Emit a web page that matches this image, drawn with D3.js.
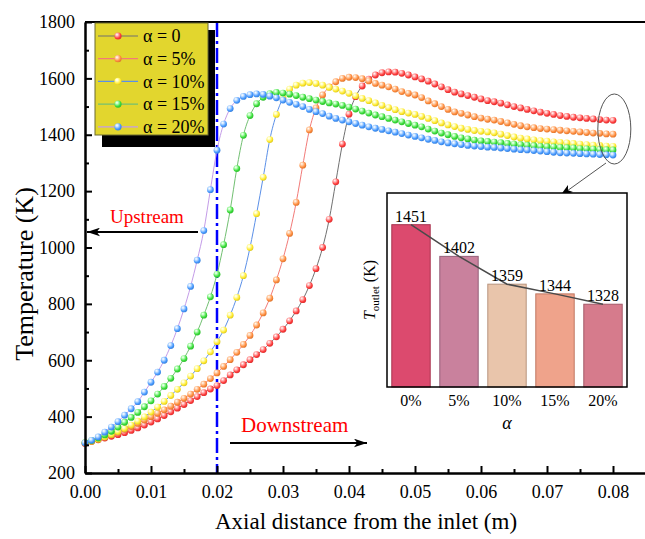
<!DOCTYPE html>
<html>
<head>
<meta charset="utf-8">
<script src="https://cdn.jsdelivr.net/npm/d3@7"></script>
<style>
  body { margin: 0; background: #fff; }
  svg { font-family: "Liberation Serif", "Times New Roman", serif; }
  .tick text { font-size: 18px; fill: #000; font-family: "Liberation Serif", "Times New Roman", serif; }
</style>
</head>
<body>
<div id="chart"></div>
<script>
var canvas_width = 645,
    canvas_height = 539;

// sample positions along the axis (m)
var positions = [
  0.000, 0.001, 0.002, 0.003, 0.004, 0.005, 0.006, 0.007, 0.008, 0.009,
  0.010, 0.011, 0.012, 0.013, 0.014, 0.015, 0.016, 0.017, 0.018, 0.019,
  0.020, 0.021, 0.022, 0.023, 0.024, 0.025, 0.026, 0.027, 0.028, 0.029,
  0.030, 0.031, 0.032, 0.033, 0.034, 0.035, 0.036, 0.037, 0.038, 0.039,
  0.040, 0.041, 0.042, 0.043, 0.044, 0.045, 0.046, 0.047, 0.048, 0.049,
  0.050, 0.051, 0.052, 0.053, 0.054, 0.055, 0.056, 0.057, 0.058, 0.059,
  0.060, 0.061, 0.062, 0.063, 0.064, 0.065, 0.066, 0.067, 0.068, 0.069,
  0.070, 0.071, 0.072, 0.073, 0.074, 0.075, 0.076, 0.077, 0.078, 0.079,
  0.080
];

var temp_a0 = [
  305, 312, 318, 324, 330, 336, 343, 351, 360, 370,
  381, 392, 404, 417, 430, 443, 457, 471, 485, 498,
  510, 528, 548, 566, 584, 602, 620, 638, 660, 683,
  710, 740, 775, 815, 865, 925, 1000, 1100, 1233, 1367,
  1473, 1535, 1573, 1597, 1612, 1620, 1623, 1622, 1618, 1612,
  1605, 1598, 1590, 1580, 1570, 1560, 1551, 1545, 1539, 1533,
  1527, 1521, 1517, 1512, 1506, 1500, 1495, 1490, 1485, 1480,
  1476, 1472, 1468, 1465, 1462, 1460, 1458, 1456, 1454, 1452,
  1451
];
var temp_a5 = [
  306, 313, 320, 328, 336, 345, 355, 365, 376, 388,
  400, 412, 424, 437, 451, 465, 480, 497, 515, 535,
  555, 578, 602, 628, 656, 688, 725, 768, 820, 885,
  960, 1050, 1160, 1292, 1417, 1495, 1541, 1570, 1588, 1600,
  1604, 1603, 1599, 1591, 1582, 1576, 1570, 1562, 1553, 1547,
  1541, 1532, 1520, 1510, 1500, 1490, 1481, 1476, 1470, 1464,
  1459, 1455, 1452, 1447, 1442, 1437, 1432, 1428, 1425, 1422,
  1420, 1418, 1416, 1414, 1412, 1410, 1408, 1406, 1405, 1403,
  1402
];
var temp_a10 = [
  308, 313, 320, 328, 337, 347, 358, 370, 384, 399,
  416, 434, 454, 475, 497, 520, 544, 570, 598, 630,
  666, 707, 760, 823, 900, 1000, 1120, 1249, 1383, 1472,
  1530, 1562, 1576, 1583, 1585, 1582, 1576, 1568, 1562, 1555,
  1547, 1538, 1529, 1521, 1513, 1504, 1496, 1489, 1482, 1477,
  1472, 1465, 1458, 1450, 1442, 1435, 1429, 1423, 1419, 1415,
  1412, 1410, 1407, 1402, 1397, 1392, 1388, 1385, 1382, 1379,
  1377, 1375, 1373, 1371, 1369, 1367, 1365, 1363, 1362, 1360,
  1359
];
var temp_a15 = [
  308, 315, 324, 335, 348, 363, 380, 397, 415, 435,
  456, 480, 507, 536, 569, 606, 650, 700, 760, 825,
  905, 1010, 1133, 1280, 1398, 1468, 1510, 1533, 1546, 1550,
  1548, 1544, 1539, 1533, 1528, 1523, 1518, 1513, 1509, 1504,
  1498, 1491, 1484, 1477, 1470, 1464, 1458, 1452, 1446, 1440,
  1434, 1428, 1420, 1413, 1406, 1400, 1394, 1389, 1385, 1381,
  1378, 1376, 1374, 1372, 1369, 1367, 1365, 1363, 1361, 1359,
  1358, 1357, 1355, 1354, 1353, 1351, 1350, 1349, 1348, 1347,
  1346
];
var temp_a20 = [
  307, 316, 328, 345, 363, 382, 405, 428, 453, 487,
  522, 558, 600, 652, 712, 782, 862, 955, 1060, 1205,
  1345, 1438, 1493, 1522, 1536, 1542, 1545, 1543, 1537, 1531,
  1523, 1515, 1508, 1500, 1490, 1482, 1475, 1466, 1458, 1452,
  1446, 1440, 1434, 1428, 1423, 1419, 1414, 1409, 1404, 1399,
  1394, 1389, 1384, 1380, 1375, 1371, 1368, 1365, 1362, 1360,
  1358, 1356, 1355, 1353, 1351, 1349, 1347, 1346, 1344, 1342,
  1340, 1338, 1336, 1335, 1334, 1333, 1332, 1331, 1330, 1329,
  1328
];

var series_names = ["α = 0", "α = 5%", "α = 10%", "α = 15%", "α = 20%"];
var x_ticks = [0, 0.01, 0.02, 0.03, 0.04, 0.05, 0.06, 0.07, 0.08];
var x_minor = [0.005, 0.015, 0.025, 0.035, 0.045, 0.055, 0.065, 0.075];
var y_ticks = [200, 400, 600, 800, 1000, 1200, 1400, 1600, 1800];
var y_minor = [300, 500, 700, 900, 1100, 1300, 1500, 1700];

// inset
var outlet_labels = ["0%", "5%", "10%", "15%", "20%"];
var outlet_values = [1451, 1402, 1359, 1344, 1328];

var ball_colors = ["#ff3a3a", "#ff8a3a", "#ffe92a", "#38dc38", "#4598ff"];
var ball_lights = ["#ffc0c0", "#ffd8b8", "#ffffc8", "#c0ffc0", "#cfe6ff"];
var line_colors = ["#707070", "#f27a78", "#5b90e8", "#72c072", "#c49ce8"];
var bar_fills = ["#dc4a6e", "#c9819d", "#e9c5ab", "#efa38b", "#d67b8c"];
var bar_strokes = ["#a8344f", "#94607a", "#b8947e", "#c07762", "#a45a68"];

var margin = { top: 22, right: 0, bottom: 66, left: 85 };
var width = canvas_width - margin.left - margin.right + 1;
var height = canvas_height - margin.top - margin.bottom;

var svg = d3.select("#chart")
    .append("svg")
    .attr("width", canvas_width)
    .attr("height", canvas_height);

var defs = svg.append("defs");
ball_colors.forEach(function (c, i) {
    var grad = defs.append("radialGradient")
        .attr("id", "ball" + i)
        .attr("cx", "38%").attr("cy", "35%").attr("r", "65%")
        .attr("fx", "35%").attr("fy", "30%");
    grad.append("stop").attr("offset", "0%").attr("stop-color", "#ffffff");
    grad.append("stop").attr("offset", "25%").attr("stop-color", ball_lights[i]);
    grad.append("stop").attr("offset", "75%").attr("stop-color", c);
    grad.append("stop").attr("offset", "100%").attr("stop-color", d3.color(c).darker(0.4));
});

var xScale = d3.scaleLinear().domain([0, 0.085]).range([0, width]);
var yScale = d3.scaleLinear().domain([200, 1800]).range([height, 0]);

var g = svg.append("g")
    .attr("transform", "translate(" + margin.left + "," + margin.top + ")");

// dash-dot boundary
g.append("line")
    .attr("x1", xScale(0.02)).attr("x2", xScale(0.02))
    .attr("y1", 0).attr("y2", height)
    .attr("stroke", "#0000ff")
    .attr("stroke-width", 2.5)
    .attr("stroke-dasharray", "15,4,3,4");

// Lines and balls
var all_series = [temp_a0, temp_a5, temp_a10, temp_a15, temp_a20];
var source = all_series.map(function (vals, i) {
    return { key: i, value: positions.map(function (p, j) { return { x: p, y: vals[j] }; }) };
});

var line = d3.line()
    .curve(d3.curveMonotoneX)
    .x(function (d) { return xScale(d.x); })
    .y(function (d) { return yScale(d.y); });

var seriesG = g.selectAll(".series")
    .data(source)
    .enter()
    .append("g")
    .attr("class", "series");

seriesG.append("path")
    .attr("fill", "none")
    .attr("stroke", function (d) { return line_colors[d.key]; })
    .attr("stroke-width", 1)
    .attr("d", function (d) { return line(d.value); });

seriesG.selectAll("circle")
    .data(function (d) { return d.value.map(function (v) { return { k: d.key, x: v.x, y: v.y }; }); })
    .enter()
    .append("circle")
    .attr("cx", function (d) { return xScale(d.x); })
    .attr("cy", function (d) { return yScale(d.y); })
    .attr("r", 3.4)
    .attr("fill", function (d) { return "url(#ball" + d.k + ")"; });

// Axes
var xAxis = g.append("g")
    .attr("transform", "translate(0," + height + ")")
    .call(d3.axisBottom(xScale).tickValues(x_ticks).tickFormat(d3.format(".2f"))
        .tickSize(-7).tickSizeOuter(0).tickPadding(12));
g.append("g")
    .attr("transform", "translate(0," + height + ")")
    .call(d3.axisBottom(xScale).tickValues(x_minor).tickFormat("").tickSize(-4).tickSizeOuter(0));

var yAxis = g.append("g")
    .call(d3.axisLeft(yScale).tickValues(y_ticks).tickFormat(d3.format("d"))
        .tickSize(-7).tickSizeOuter(0).tickPadding(10));
g.append("g")
    .call(d3.axisLeft(yScale).tickValues(y_minor).tickFormat("").tickSize(-4).tickSizeOuter(0));

g.selectAll(".domain").attr("stroke", "#000").attr("stroke-width", 2);
g.selectAll(".tick line").attr("stroke", "#000").attr("stroke-width", 2);

// top frame
g.append("line")
    .attr("x1", 0).attr("x2", width)
    .attr("y1", 0).attr("y2", 0)
    .attr("stroke", "#000").attr("stroke-width", 2);

// Labels
svg.append("text")
    .attr("x", 366).attr("y", 529)
    .attr("text-anchor", "middle")
    .style("font-size", "23px")
    .text("Axial distance from the inlet (m)");

svg.append("text")
    .attr("transform", "translate(33,274) rotate(-90)")
    .attr("text-anchor", "middle")
    .style("font-size", "26px")
    .text("Temperature (K)");

// Upstream / Downstream arrows
defs.append("marker")
    .attr("id", "arrowBlack")
    .attr("viewBox", "0 0 12 8")
    .attr("refX", 12).attr("refY", 4)
    .attr("markerWidth", 13).attr("markerHeight", 9)
    .attr("markerUnits", "userSpaceOnUse")
    .attr("orient", "auto")
    .append("path").attr("d", "M0,0 L12,4 L0,8 L3,4 Z").attr("fill", "#000");

svg.append("line")
    .attr("x1", 198).attr("y1", 232).attr("x2", 87).attr("y2", 232)
    .attr("stroke", "#000").attr("stroke-width", 2)
    .attr("marker-end", "url(#arrowBlack)");
svg.append("text")
    .attr("x", 110).attr("y", 223)
    .attr("fill", "#ff0000")
    .style("font-size", "19px")
    .text("Upstream");

svg.append("line")
    .attr("x1", 230).attr("y1", 443).attr("x2", 367).attr("y2", 443)
    .attr("stroke", "#000").attr("stroke-width", 2)
    .attr("marker-end", "url(#arrowBlack)");
svg.append("text")
    .attr("x", 241).attr("y", 432)
    .attr("fill", "#ff0000")
    .style("font-size", "21px")
    .text("Downstream");

// Legend
var legend = svg.append("g").attr("transform", "translate(95,23)");
legend.append("rect")
    .attr("x", 7).attr("y", 7).attr("width", 113).attr("height", 117)
    .attr("fill", "#000");
legend.append("rect")
    .attr("width", 113).attr("height", 112)
    .attr("fill", "#e2d62e")
    .attr("stroke", "#6b6b30").attr("stroke-width", 1);

var legendRows = legend.selectAll(".legend-row")
    .data(series_names)
    .enter()
    .append("g")
    .attr("transform", function (d, i) { return "translate(0," + (13 + i * 22.7) + ")"; });
legendRows.append("line")
    .attr("x1", 3).attr("x2", 43)
    .attr("stroke", function (d, i) { return line_colors[i]; })
    .attr("stroke-width", 1.2);
legendRows.append("circle")
    .attr("cx", 23).attr("r", 3.6)
    .attr("fill", function (d, i) { return "url(#ball" + i + ")"; });
legendRows.append("text")
    .attr("x", 48).attr("dy", "0.35em")
    .style("font-size", "18px")
    .text(function (d) { return d; });

// Ellipse callout
svg.append("ellipse")
    .attr("cx", xScale(0.0802) + margin.left).attr("cy", 129)
    .attr("rx", 16.5).attr("ry", 35)
    .attr("fill", "none").attr("stroke", "#555").attr("stroke-width", 1);
svg.append("line")
    .attr("x1", 606).attr("y1", 163).attr("x2", 560).attr("y2", 196)
    .attr("stroke", "#555").attr("stroke-width", 1)
    .attr("marker-end", "url(#arrowBlack)");

// Inset bar chart
var inset = { left: 387, top: 193, width: 240, height: 194 };
var ig = svg.append("g").attr("transform", "translate(" + inset.left + "," + inset.top + ")");

ig.append("rect")
    .attr("width", inset.width).attr("height", inset.height)
    .attr("fill", "#fff");

var bx = d3.scaleBand().domain(outlet_labels).range([0, inset.width])
    .paddingInner(0.2).paddingOuter(0.1);
var by = d3.scaleLinear().domain([1200, 1500]).range([inset.height, 0]);

ig.selectAll(".bar")
    .data(outlet_values)
    .enter()
    .append("rect")
    .attr("x", function (d, i) { return bx(outlet_labels[i]); })
    .attr("y", function (d) { return by(d); })
    .attr("width", bx.bandwidth())
    .attr("height", function (d) { return inset.height - by(d); })
    .attr("fill", function (d, i) { return bar_fills[i]; })
    .attr("stroke", function (d, i) { return bar_strokes[i]; })
    .attr("stroke-width", 1);

ig.append("path")
    .datum(outlet_values)
    .attr("fill", "none")
    .attr("stroke", "#4a4a4a")
    .attr("stroke-width", 1.5)
    .attr("d", d3.line()
        .x(function (d, i) { return bx(outlet_labels[i]) + bx.bandwidth() / 2; })
        .y(function (d) { return by(d); }));

ig.selectAll(".val")
    .data(outlet_values)
    .enter()
    .append("text")
    .attr("x", function (d, i) { return bx(outlet_labels[i]) + bx.bandwidth() / 2; })
    .attr("y", function (d) { return by(d) - 3; })
    .attr("text-anchor", "middle")
    .style("font-size", "16px")
    .text(function (d) { return d; });

ig.append("g")
    .attr("transform", "translate(0," + inset.height + ")")
    .call(d3.axisBottom(bx).tickSize(0).tickPadding(8))
    .call(function (a) { a.select(".domain").remove(); })
    .selectAll("text").style("font-size", "16px");

ig.append("rect")
    .attr("width", inset.width).attr("height", inset.height)
    .attr("fill", "none").attr("stroke", "#000").attr("stroke-width", 1.5);

ig.append("text")
    .attr("x", inset.width / 2).attr("y", 236)
    .attr("text-anchor", "middle")
    .style("font-size", "18px").style("font-style", "italic")
    .text("α");

var ylab = ig.append("text")
    .attr("transform", "translate(-12," + (inset.height / 2) + ") rotate(-90)")
    .attr("text-anchor", "middle")
    .style("font-size", "16px");
ylab.append("tspan").style("font-style", "italic").text("T");
ylab.append("tspan").attr("dy", 4).style("font-size", "11px").text("outlet");
ylab.append("tspan").attr("dy", -4).text(" (K)");
</script>
</body>
</html>
